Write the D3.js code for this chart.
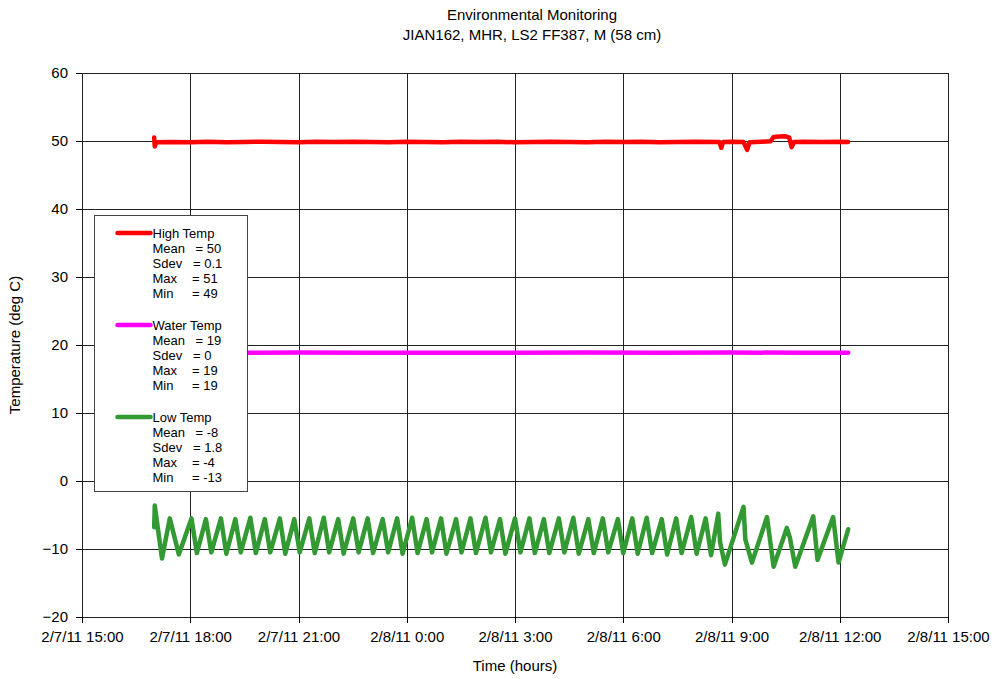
<!DOCTYPE html>
<html>
<head>
<meta charset="utf-8">
<script src="https://cdn.jsdelivr.net/npm/d3@7"></script>
<style>
  body { margin: 0; background: #fff; }
  svg { display: block; font-family: "Liberation Sans", Arial, sans-serif; }
  .grid line { stroke: #222; stroke-width: 1; shape-rendering: crispEdges; }
  .axis path, .axis line { stroke: #000; shape-rendering: crispEdges; }
  .axis text { font-size: 15px; fill: #000; }
  .series { fill: none; stroke-width: 4.5; stroke-linejoin: round; stroke-linecap: round; }
</style>
</head>
<body>
<script>
'use strict';

var width = 1000,
    height = 679,
    margin = {top: 73, right: 52, bottom: 62, left: 82};

// ---- data ----
var xTickStart = "2/7/11 15:00",
    xTickEnd = "2/8/11 15:00";
var yTicks = [-20, -10, 0, 10, 20, 30, 40, 50, 60];

var highTimes = ["2/7/11 17:00", "2/7/11 17:01", "2/7/11 17:03", "2/7/11 17:30", "2/7/11 18:00", "2/7/11 18:30",
  "2/7/11 19:00", "2/7/11 19:30", "2/7/11 20:00", "2/7/11 20:30", "2/7/11 21:00", "2/7/11 21:30", "2/7/11 22:00",
  "2/7/11 22:30", "2/7/11 23:00", "2/7/11 23:30", "2/8/11 0:00", "2/8/11 0:30", "2/8/11 1:00", "2/8/11 1:30",
  "2/8/11 2:00", "2/8/11 2:30", "2/8/11 3:00", "2/8/11 3:30", "2/8/11 4:00", "2/8/11 4:30", "2/8/11 5:00",
  "2/8/11 5:30", "2/8/11 6:00", "2/8/11 6:30", "2/8/11 7:00", "2/8/11 7:30", "2/8/11 8:00", "2/8/11 8:40",
  "2/8/11 8:43", "2/8/11 8:46", "2/8/11 9:00", "2/8/11 9:20", "2/8/11 9:26", "2/8/11 9:30", "2/8/11 9:50",
  "2/8/11 10:05", "2/8/11 10:10", "2/8/11 10:20", "2/8/11 10:30", "2/8/11 10:36", "2/8/11 10:40", "2/8/11 10:44",
  "2/8/11 11:00", "2/8/11 11:30", "2/8/11 12:00", "2/8/11 12:14"];
var highVals = [50.5, 49.2, 49.8, 49.85, 49.8, 49.9,
  49.8, 49.85, 49.9, 49.85, 49.8, 49.9, 49.85,
  49.9, 49.85, 49.8, 49.9, 49.85, 49.8, 49.9,
  49.85, 49.9, 49.8, 49.85, 49.9, 49.85, 49.8,
  49.9, 49.85, 49.9, 49.8, 49.85, 49.9, 49.85,
  49.0, 49.85, 49.9, 49.85, 48.7, 49.8, 49.9,
  49.95, 50.6, 50.65, 50.7, 50.5, 49.1, 49.85,
  49.9, 49.85, 49.9, 49.85];

var waterTimes = ["2/7/11 17:00", "2/7/11 19:00", "2/7/11 21:00", "2/7/11 23:00", "2/8/11 1:00", "2/8/11 3:00",
  "2/8/11 5:00", "2/8/11 7:00", "2/8/11 9:00", "2/8/11 11:00", "2/8/11 12:14"];
var waterVals = [18.85, 18.85, 18.9, 18.85, 18.85, 18.85, 18.9, 18.85, 18.9, 18.85, 18.85];

var lowTimes = ["2/7/11 17:00", "2/7/11 17:01", "2/7/11 17:13", "2/7/11 17:26", "2/7/11 17:41",
  "2/7/11 18:02", "2/7/11 18:11", "2/7/11 18:26", "2/7/11 18:35", "2/7/11 18:51", "2/7/11 19:00",
  "2/7/11 19:15", "2/7/11 19:24", "2/7/11 19:40", "2/7/11 19:49", "2/7/11 20:04", "2/7/11 20:13",
  "2/7/11 20:29", "2/7/11 20:38", "2/7/11 20:53", "2/7/11 21:02", "2/7/11 21:18", "2/7/11 21:27",
  "2/7/11 21:42", "2/7/11 21:51", "2/7/11 22:06", "2/7/11 22:15", "2/7/11 22:31", "2/7/11 22:40",
  "2/7/11 22:55", "2/7/11 23:04", "2/7/11 23:20", "2/7/11 23:29", "2/7/11 23:44", "2/7/11 23:53",
  "2/8/11 0:09", "2/8/11 0:18", "2/8/11 0:33", "2/8/11 0:42", "2/8/11 0:57", "2/8/11 1:06",
  "2/8/11 1:22", "2/8/11 1:31", "2/8/11 1:46", "2/8/11 1:55", "2/8/11 2:11", "2/8/11 2:20",
  "2/8/11 2:35", "2/8/11 2:44", "2/8/11 3:00", "2/8/11 3:09", "2/8/11 3:24", "2/8/11 3:33",
  "2/8/11 3:48", "2/8/11 3:57", "2/8/11 4:13", "2/8/11 4:22", "2/8/11 4:37", "2/8/11 4:46",
  "2/8/11 5:02", "2/8/11 5:11", "2/8/11 5:26", "2/8/11 5:35", "2/8/11 5:51", "2/8/11 6:00",
  "2/8/11 6:15", "2/8/11 6:24", "2/8/11 6:39", "2/8/11 6:48", "2/8/11 7:04", "2/8/11 7:13",
  "2/8/11 7:28", "2/8/11 7:37", "2/8/11 7:53", "2/8/11 8:02", "2/8/11 8:17", "2/8/11 8:26",
  "2/8/11 8:38", "2/8/11 8:41", "2/8/11 8:49", "2/8/11 9:20", "2/8/11 9:23", "2/8/11 9:34",
  "2/8/11 9:59", "2/8/11 10:10", "2/8/11 10:32", "2/8/11 10:37", "2/8/11 10:46", "2/8/11 11:16",
  "2/8/11 11:23", "2/8/11 11:49", "2/8/11 11:58", "2/8/11 12:14"];
var lowVals = [-6.8, -3.6, -11.4, -5.5, -10.8,
  -5.5, -10.6, -5.6, -10.5, -5.5, -10.7,
  -5.6, -10.5, -5.4, -10.6, -5.6, -10.5,
  -5.5, -10.7, -5.6, -10.5, -5.5, -10.6,
  -5.4, -10.5, -5.6, -10.7, -5.5, -10.5,
  -5.5, -10.6, -5.6, -10.5, -5.5, -10.7,
  -5.4, -10.6, -5.6, -10.5, -5.5, -10.7,
  -5.6, -10.5, -5.5, -10.6, -5.4, -10.5,
  -5.6, -10.7, -5.5, -10.5, -5.5, -10.6,
  -5.6, -10.6, -5.5, -10.5, -5.4, -10.7,
  -5.6, -10.6, -5.5, -10.5, -5.6, -10.6,
  -5.5, -10.7, -5.4, -10.6, -5.6, -10.8,
  -5.5, -10.6, -5.3, -10.7, -5.5, -10.9,
  -4.8, -9.0, -12.3, -3.8, -8.6, -12.0,
  -5.3, -12.6, -6.9, -8.3, -12.6, -5.2,
  -11.6, -5.3, -12.0, -7.1];

var seriesNames = ["High Temp", "Water Temp", "Low Temp"];
var seriesColors = ["#ff0000", "#ff00ff", "#339933"];
var statLabels = ["Mean", "Sdev", "Max", "Min"];
var highStats = ["50", "0.1", "51", "49"];
var waterStats = ["19", "0", "19", "19"];
var lowStats = ["-8", "1.8", "-4", "-13"];

// ---- build ----
var parse = d3.timeParse("%m/%d/%y %H:%M");
var fmt = d3.timeFormat("%-m/%-d/%y %-H:%M");

function zipSeries(times, vals) {
  return times.map(function(t, i) { return {t: parse(t), v: vals[i]}; });
}
var series = [
  zipSeries(highTimes, highVals),
  zipSeries(waterTimes, waterVals),
  zipSeries(lowTimes, lowVals)
];

var svg = d3.select("body").append("svg")
  .attr("width", width)
  .attr("height", height);

var x = d3.scaleTime()
  .domain([parse(xTickStart), parse(xTickEnd)])
  .range([margin.left, width - margin.right]);

var y = d3.scaleLinear()
  .domain([-20, 60])
  .range([height - margin.bottom, margin.top]);

var xTicks = d3.timeHour.every(3).range(parse(xTickStart), d3.timeMinute.offset(parse(xTickEnd), 1));

// gridlines
var grid = svg.append("g").attr("class", "grid");
grid.selectAll("line.h")
  .data(yTicks)
  .enter().append("line")
  .attr("class", "h")
  .attr("x1", margin.left).attr("x2", width - margin.right)
  .attr("y1", function(d) { return Math.round(y(d)) + 0.5; })
  .attr("y2", function(d) { return Math.round(y(d)) + 0.5; });
grid.selectAll("line.v")
  .data(xTicks)
  .enter().append("line")
  .attr("class", "v")
  .attr("y1", margin.top).attr("y2", height - margin.bottom)
  .attr("x1", function(d) { return Math.round(x(d)) + 0.5; })
  .attr("x2", function(d) { return Math.round(x(d)) + 0.5; });

// axes
svg.append("g")
  .attr("class", "axis")
  .attr("transform", "translate(0," + (height - margin.bottom) + ")")
  .call(d3.axisBottom(x).tickValues(xTicks).tickFormat(fmt).tickSize(6).tickSizeOuter(0).tickPadding(8))
  .call(function(g) { g.select(".domain").remove(); });

svg.append("g")
  .attr("class", "axis")
  .attr("transform", "translate(" + margin.left + ",0)")
  .call(d3.axisLeft(y).tickValues(yTicks).tickSize(6).tickSizeOuter(0).tickPadding(8))
  .call(function(g) { g.select(".domain").remove(); });

// lines
var line = d3.line()
  .x(function(d) { return x(d.t); })
  .y(function(d) { return y(d.v); });

svg.selectAll("path.series")
  .data(series)
  .enter().append("path")
  .attr("class", "series")
  .attr("stroke", function(d, i) { return seriesColors[i]; })
  .attr("d", line);

// titles
svg.append("text")
  .attr("x", 532).attr("y", 20)
  .attr("text-anchor", "middle")
  .style("font-size", "15px")
  .text("Environmental Monitoring");
svg.append("text")
  .attr("x", 532).attr("y", 40)
  .attr("text-anchor", "middle")
  .style("font-size", "15px")
  .text("JIAN162, MHR, LS2 FF387, M (58 cm)");

svg.append("text")
  .attr("x", (margin.left + width - margin.right) / 2)
  .attr("y", 671)
  .attr("text-anchor", "middle")
  .style("font-size", "15px")
  .text("Time (hours)");

svg.append("text")
  .attr("transform", "translate(20," + ((margin.top + height - margin.bottom) / 2) + ") rotate(-90)")
  .attr("text-anchor", "middle")
  .style("font-size", "15px")
  .text("Temperature (deg C)");

// legend
var legend = svg.append("g").attr("transform", "translate(94.5,215.5)");
legend.append("rect")
  .attr("width", 153).attr("height", 276)
  .attr("fill", "#fff")
  .attr("stroke", "#444")
  .attr("stroke-width", 1);

var stats = [highStats, waterStats, lowStats];
var eqX = [101, 98.5, 97.5, 97.5];
seriesNames.forEach(function(name, i) {
  var g = legend.append("g").attr("transform", "translate(0," + (17.5 + i * 92) + ")");
  g.append("line")
    .attr("x1", 23).attr("x2", 56)
    .attr("y1", 0).attr("y2", 0)
    .attr("stroke", seriesColors[i])
    .attr("stroke-width", 4.5)
    .attr("stroke-linecap", "round");
  g.append("text")
    .attr("x", 58).attr("y", 4.5)
    .style("font-size", "13px")
    .text(name);
  statLabels.forEach(function(lab, j) {
    g.append("text")
      .attr("x", 58).attr("y", 4.5 + (j + 1) * 15.2)
      .style("font-size", "13px")
      .text(lab);
    g.append("text")
      .attr("x", eqX[j]).attr("y", 4.5 + (j + 1) * 15.2)
      .style("font-size", "13px")
      .text("= " + stats[i][j]);
  });
});
</script>
</body>
</html>
